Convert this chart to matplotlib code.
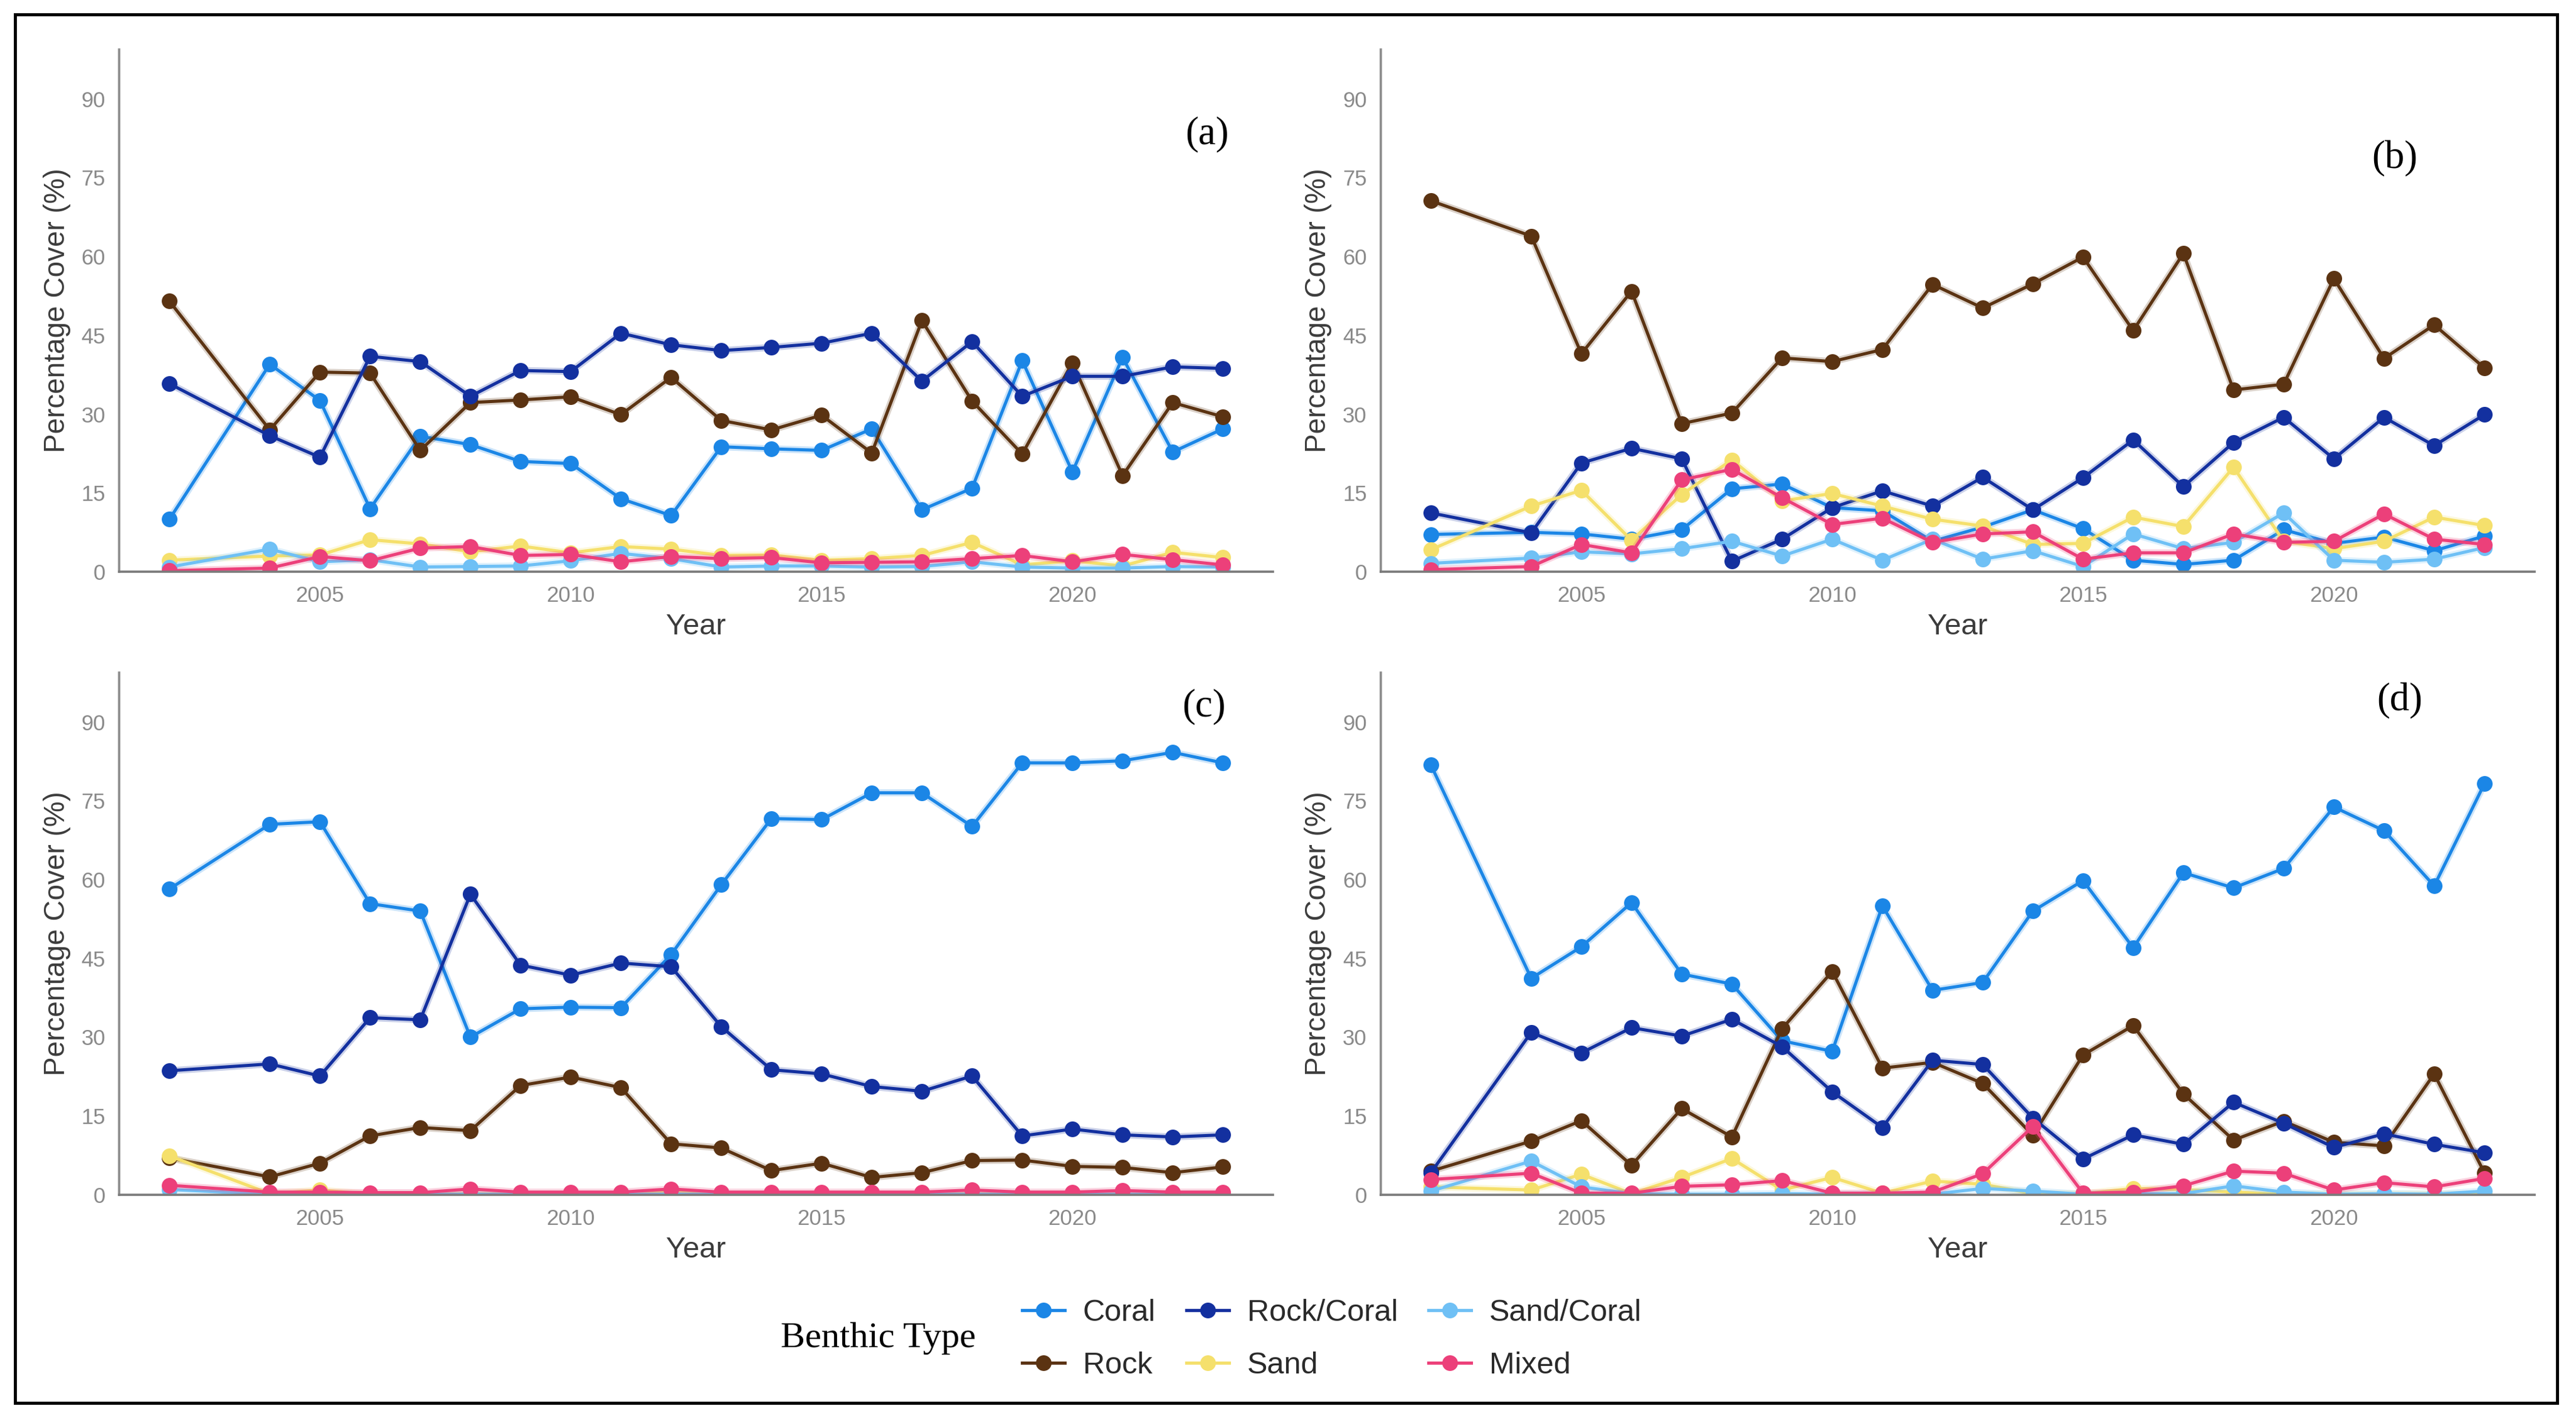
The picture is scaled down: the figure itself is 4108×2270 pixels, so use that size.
import matplotlib
matplotlib.use("Agg")
import matplotlib.pyplot as plt
from matplotlib.lines import Line2D
from matplotlib.patches import Rectangle

# survey years (2003 missing)
years = [2002] + list(range(2004, 2024))

# panel (a)
coral_a = [10.0, 39.5, 32.6, 12.0, 25.8, 24.2, 21.0, 20.6, 13.9, 10.7, 23.8, 23.4, 23.1, 27.2, 11.8, 15.9, 40.2, 19.0, 40.8, 22.8, 27.2]
rock_a = [51.5, 27.0, 38.0, 37.8, 23.1, 32.2, 32.7, 33.3, 29.9, 37.0, 28.8, 27.0, 29.8, 22.6, 47.8, 32.5, 22.4, 39.8, 18.3, 32.2, 29.5]
rockcoral_a = [35.8, 25.9, 21.8, 41.0, 40.0, 33.4, 38.3, 38.1, 45.4, 43.2, 42.1, 42.7, 43.5, 45.4, 36.3, 43.8, 33.4, 37.2, 37.2, 39.0, 38.7]
sand_a = [2.2, 3.0, 3.2, 6.1, 5.3, 3.8, 4.9, 3.6, 4.8, 4.3, 3.1, 3.2, 2.2, 2.5, 3.1, 5.6, 1.3, 2.1, 1.1, 3.7, 2.7]
sandcoral_a = [0.9, 4.3, 1.9, 2.3, 0.9, 1.0, 1.1, 2.1, 3.5, 2.5, 0.9, 1.1, 1.1, 0.9, 1.0, 1.9, 0.9, 0.7, 0.7, 1.0, 0.9]
mixed_a = [0.2, 0.7, 2.9, 2.1, 4.5, 4.8, 3.1, 3.3, 1.9, 2.9, 2.5, 2.7, 1.7, 1.8, 1.9, 2.5, 3.1, 1.9, 3.3, 2.3, 1.3]

# panel (b)
coral_b = [7.1, 7.5, 7.2, 6.2, 8.0, 15.8, 16.7, 12.2, 11.6, 5.8, 8.5, 11.8, 8.2, 2.2, 1.4, 2.2, 8.0, 5.4, 6.6, 4.0, 6.8]
rock_b = [70.6, 63.9, 41.5, 53.4, 28.2, 30.2, 40.7, 40.0, 42.3, 54.7, 50.2, 54.8, 59.9, 45.9, 60.6, 34.6, 35.7, 55.8, 40.6, 47.0, 38.8]
rockcoral_b = [11.2, 7.4, 20.7, 23.5, 21.5, 2.0, 6.2, 12.2, 15.4, 12.5, 18.0, 11.8, 17.9, 25.1, 16.2, 24.6, 29.4, 21.5, 29.4, 24.0, 29.9]
sand_b = [4.2, 12.5, 15.5, 6.0, 14.7, 21.3, 13.5, 14.9, 12.5, 10.0, 8.7, 5.2, 5.4, 10.4, 8.6, 19.9, 5.8, 4.4, 5.8, 10.4, 8.8]
sandcoral_b = [1.6, 2.6, 3.8, 3.4, 4.4, 5.8, 3.0, 6.2, 2.2, 6.2, 2.4, 4.0, 1.0, 7.2, 4.4, 5.6, 11.2, 2.2, 1.8, 2.4, 4.6]
mixed_b = [0.4, 1.0, 5.2, 3.6, 17.5, 19.5, 14.1, 9.0, 10.2, 5.6, 7.2, 7.6, 2.4, 3.6, 3.6, 7.2, 5.6, 5.8, 11.0, 6.2, 5.2]

# panel (c)
coral_c = [58.2, 70.5, 71.0, 55.4, 54.0, 30.0, 35.4, 35.7, 35.6, 45.7, 59.0, 71.6, 71.4, 76.5, 76.5, 70.1, 82.2, 82.2, 82.6, 84.2, 82.2]
rock_c = [7.0, 3.4, 6.0, 11.2, 12.8, 12.2, 20.8, 22.4, 20.4, 9.7, 8.9, 4.6, 6.0, 3.3, 4.2, 6.5, 6.6, 5.4, 5.2, 4.2, 5.3]
rockcoral_c = [23.6, 24.9, 22.6, 33.7, 33.3, 57.2, 43.7, 41.8, 44.1, 43.4, 32.0, 23.8, 23.0, 20.6, 19.7, 22.6, 11.2, 12.5, 11.4, 11.0, 11.4]
sand_c = [7.4, 0.2, 0.9, 0.1, 0.1, 0.2, 0.1, 0.1, 0.1, 0.5, 0.1, 0.1, 0.1, 0.1, 0.1, 0.2, 0.1, 0.1, 0.1, 0.1, 0.1]
sandcoral_c = [1.0, 0.1, 0.1, 0.1, 0.1, 0.1, 0.1, 0.1, 0.1, 0.1, 0.1, 0.1, 0.1, 0.1, 0.1, 0.1, 0.1, 0.1, 0.1, 0.1, 0.1]
mixed_c = [1.8, 0.5, 0.5, 0.4, 0.4, 1.1, 0.5, 0.5, 0.5, 1.1, 0.5, 0.5, 0.5, 0.5, 0.5, 0.9, 0.5, 0.5, 0.8, 0.5, 0.5]

# panel (d)
coral_d = [81.8, 41.2, 47.2, 55.6, 42.0, 40.1, 29.3, 27.3, 55.0, 38.9, 40.4, 54.0, 59.8, 47.0, 61.3, 58.4, 62.1, 73.8, 69.3, 58.8, 78.2]
rock_d = [4.5, 10.2, 14.1, 5.6, 16.4, 11.0, 31.6, 42.5, 24.1, 25.2, 21.2, 11.3, 26.6, 32.2, 19.2, 10.4, 14.0, 10.0, 9.3, 23.0, 4.2]
rockcoral_d = [4.2, 30.9, 27.0, 31.8, 30.2, 33.4, 28.2, 19.6, 12.8, 25.6, 24.8, 14.6, 6.8, 11.4, 9.6, 17.6, 13.6, 9.0, 11.6, 9.6, 8.0]
sand_d = [1.5, 0.9, 3.9, 0.2, 3.3, 6.9, 0.9, 3.3, 0.3, 2.6, 2.0, 0.2, 0.2, 1.2, 1.0, 0.5, 0.1, 0.1, 0.1, 0.1, 0.1]
sandcoral_d = [0.7, 6.4, 1.5, 0.2, 0.1, 0.1, 0.2, 0.1, 0.1, 0.1, 1.2, 0.7, 0.1, 0.2, 0.2, 1.7, 0.5, 0.1, 0.2, 0.1, 0.7]
mixed_d = [2.9, 4.1, 0.3, 0.3, 1.6, 1.9, 2.7, 0.3, 0.3, 0.5, 4.0, 13.0, 0.3, 0.5, 1.7, 4.5, 4.1, 0.9, 2.3, 1.5, 3.1]

types = ["Coral", "Rock", "Rock/Coral", "Sand", "Sand/Coral", "Mixed"]
colors = {"Coral": "#1b86e6", "Rock": "#5b3312", "Rock/Coral": "#13309f",
          "Sand": "#f5e06c", "Sand/Coral": "#6fc0f5", "Mixed": "#ec407a"}

panels = [
    ("(a)", [coral_a, rock_a, rockcoral_a, sand_a, sandcoral_a, mixed_a], (0.0463, 0.5982), (0.943, 0.837)),
    ("(b)", [coral_b, rock_b, rockcoral_b, sand_b, sandcoral_b, mixed_b], (0.5360, 0.5982), (0.879, 0.791)),
    ("(c)", [coral_c, rock_c, rockcoral_c, sand_c, sandcoral_c, mixed_c], (0.0463, 0.1604), (0.940, 0.934)),
    ("(d)", [coral_d, rock_d, rockcoral_d, sand_d, sandcoral_d, mixed_d], (0.5360, 0.1604), (0.883, 0.945)),
]

tick_grey = "#8a8a8a"
title_grey = "#3c3c3c"
sans = ["Liberation Sans", "DejaVu Sans"]
serif = ["Liberation Serif", "DejaVu Serif"]

fig = plt.figure(figsize=(41.08, 22.70), dpi=100)

for label, series, (x0, y0), (lx, ly) in panels:
    ax = fig.add_axes([x0, y0, 0.4479, 0.3670])
    for name, vals in zip(types, series):
        c = colors[name]
        ax.plot(years, vals, color=c, lw=8, alpha=0.22, solid_capstyle="round")
        ax.plot(years, vals, color=c, lw=3.6, marker="o", markersize=18,
                markeredgewidth=0)
    ax.set_xlim(2001, 2024)
    ax.set_ylim(0, 99.4)
    ax.set_xticks([2005, 2010, 2015, 2020])
    ax.set_yticks([0, 15, 30, 45, 60, 75, 90])
    ax.tick_params(length=0, labelsize=25, colors=tick_grey, pad=16)
    for t in ax.get_xticklabels() + ax.get_yticklabels():
        t.set_family(sans)
    for s in ["top", "right"]:
        ax.spines[s].set_visible(False)
    ax.spines["left"].set_color("#8c8c8c")
    ax.spines["bottom"].set_color("#7a7a7a")
    ax.spines["left"].set_linewidth(2.6)
    ax.spines["bottom"].set_linewidth(2.6)
    ax.set_xlabel("Year", fontsize=34, color=title_grey, family=sans, labelpad=8)
    ax.set_ylabel("Percentage Cover (%)", fontsize=33, color=title_grey,
                  family=sans, labelpad=12)
    ax.text(lx, ly, label, transform=ax.transAxes, fontsize=45, family=serif,
            ha="center", va="center", color="black")

# legend below the panels
handles = [Line2D([], [], color=colors[n], lw=3.6, marker="o", markersize=18,
                  markeredgewidth=0) for n in types]
leg = fig.legend(handles, types, loc="center", bbox_to_anchor=(0.517, 0.059),
                 ncol=3, frameon=False, handlelength=1.4, handletextpad=0.6,
                 columnspacing=1.0, labelspacing=0.8,
                 prop={"family": sans, "size": 35})
for t in leg.get_texts():
    t.set_color("#2a2a2a")
fig.text(0.341, 0.0595, "Benthic Type", fontsize=42, family=serif,
         ha="center", va="center", color="black")

# outer frame
fig.patches.append(Rectangle((24 / 4108, 1 - 2238 / 2270), (4078 - 24) / 4108,
                             (2238 - 23) / 2270, transform=fig.transFigure,
                             fill=False, edgecolor="black", lw=3.5))

fig.savefig("out.png", dpi=100, facecolor="white")
